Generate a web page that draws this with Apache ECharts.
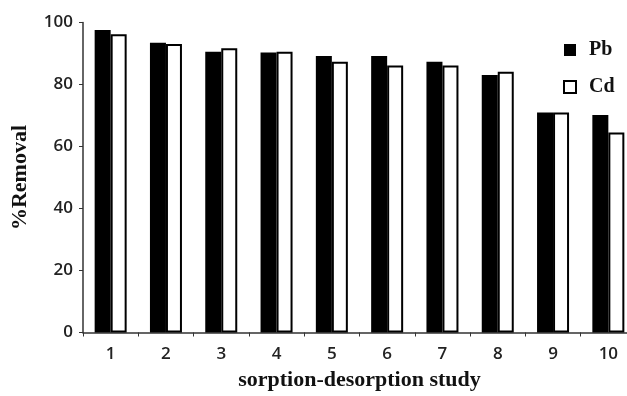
<!DOCTYPE html>
<html><head><meta charset="utf-8">
<script src="https://cdn.jsdelivr.net/npm/echarts@6/dist/echarts.min.js"></script>
<style>html,body{margin:0;padding:0;background:#fff}#c{width:627px;height:396px}</style>
</head><body><div id="c"></div>
<script>
const categories = ['1','2','3','4','5','6','7','8','9','10'];
const pbValues = [97.6, 93.5, 90.6, 90.3, 89.2, 89.2, 87.3, 83.1, 71.0, 70.2];
const cdValues = [96.2, 93.1, 91.7, 90.6, 87.3, 86.1, 86.1, 84.1, 71.0, 64.5];
const yTicks = [0, 20, 40, 60, 80, 100];

const chart = echarts.init(document.getElementById('c'), null, {renderer: 'canvas'});
const serif = '"Liberation Serif","DejaVu Serif",serif';
const sans = '"Open Sans","DejaVu Sans",sans-serif';
chart.setOption({
  animation: false,
  backgroundColor: '#fff',
  grid: {left: 83, top: 22.5, bottom: 63.5, right: -9, containLabel: false, outerBoundsMode: 'none'},
  legend: {
    orient: 'vertical', left: 558, top: 35,
    itemWidth: 12, itemHeight: 12, itemGap: 17,
    icon: 'rect',
    textStyle: {fontFamily: serif, fontWeight: 'bold', fontSize: 20, color: '#111', padding: [0, 0, 0, 8]},
    data: ['Pb', 'Cd']
  },
  xAxis: {
    type: 'category', data: categories,
    name: 'sorption-desorption study', nameLocation: 'middle', nameGap: 37,
    nameTextStyle: {fontFamily: serif, fontWeight: 'bold', fontSize: 22, color: '#111'},
    axisLine: {lineStyle: {color: '#333', width: 1.5}},
    axisTick: {show: true, length: 4, lineStyle: {color: '#333'}},
    axisLabel: {fontFamily: sans, fontWeight: 600, fontSize: 17, color: '#222', margin: 13}
  },
  yAxis: {
    type: 'value', min: yTicks[0], max: yTicks[yTicks.length - 1], interval: 20,
    name: '%Removal', nameLocation: 'middle', nameGap: 52, nameRotate: 90,
    nameTextStyle: {fontFamily: serif, fontWeight: 'bold', fontSize: 22, color: '#111'},
    axisLine: {show: true, lineStyle: {color: '#333', width: 1.5}},
    axisTick: {show: true, length: 4, lineStyle: {color: '#333'}},
    splitLine: {show: false},
    axisLabel: {fontFamily: sans, fontWeight: 600, fontSize: 17, color: '#222', margin: 10}
  },
  series: [
    {name: 'Pb', type: 'bar', data: pbValues, barWidth: 16, barGap: '0%',
     itemStyle: {color: '#000', borderColor: '#000', borderWidth: 0}},
    {name: 'Cd', type: 'bar', data: cdValues, barWidth: 16, barGap: '0%',
     itemStyle: {color: '#fff', borderColor: '#000', borderWidth: 2}}
  ]
});
</script></body></html>
